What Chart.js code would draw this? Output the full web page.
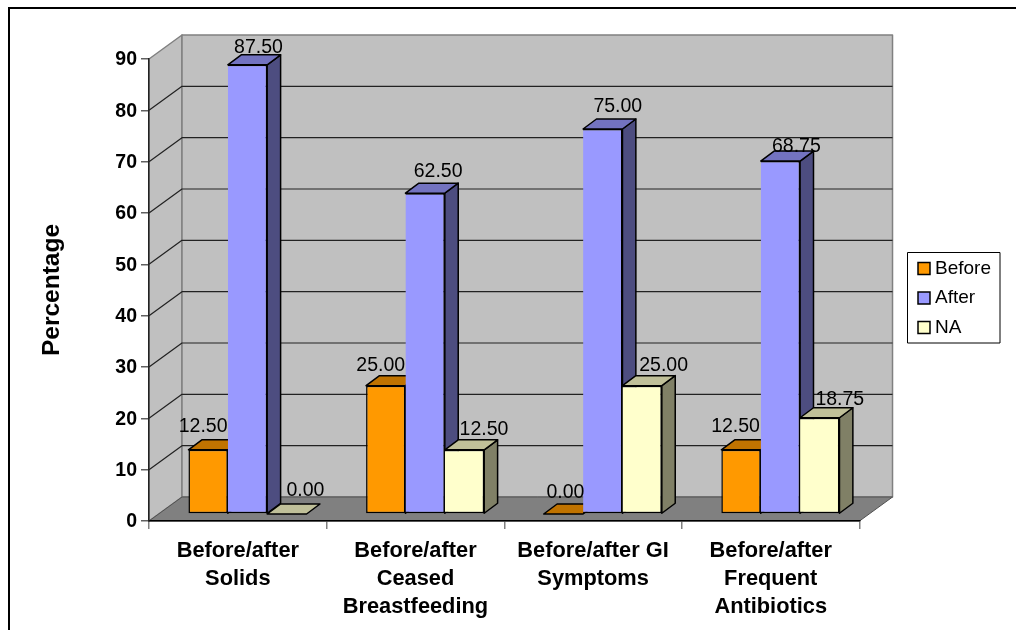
<!DOCTYPE html>
<html>
<head>
<meta charset="utf-8">
<title>Before/after percentages</title>
<script src="https://cdn.jsdelivr.net/npm/chart.js@4"></script>
<style>
    html, body { margin: 0; padding: 0; background: #fff; }
    canvas { display: block; }
</style>
</head>
<body>
<canvas id="chart" width="1016" height="630"></canvas>
<script>
const categories = [
    ['Before/after', 'Solids'],
    ['Before/after', 'Ceased', 'Breastfeeding'],
    ['Before/after GI', 'Symptoms'],
    ['Before/after', 'Frequent', 'Antibiotics']
];
const seriesNames = ['Before', 'After', 'NA'];
const beforeValues = [12.5, 25, 0, 12.5];
const afterValues = [87.5, 62.5, 75, 68.75];
const naValues = [0, 12.5, 25, 18.75];
const yTicks = [0, 10, 20, 30, 40, 50, 60, 70, 80, 90];

const frontColors = ['#FF9900', '#9999FF', '#FFFFCC'];
const topColors = ['#C07300', '#7373C0', '#C0C099'];
const sideColors = ['#804D00', '#4D4D80', '#808066'];

const FONT = '"Liberation Sans", Arial, sans-serif';
const WALL = { dx: 33, dy: 24 };     // depth of the floor and side wall
const BAR = { dx: 9.7, dy: 7 };      // bars stand this far behind the front edge
const CAP = { dx: 13.4, dy: 10 };    // depth of one bar

function poly(ctx, pts, fill, stroke, width) {
    ctx.beginPath();
    pts.forEach(([x, y], i) => i ? ctx.lineTo(x, y) : ctx.moveTo(x, y));
    ctx.closePath();
    if (fill) { ctx.fillStyle = fill; ctx.fill(); }
    if (stroke) { ctx.strokeStyle = stroke; ctx.lineWidth = width; ctx.stroke(); }
}

// frame, walls, floor, grid lines and the legend box
const roomPlugin = {
    id: 'room',
    beforeDraw(chart) {
        const { ctx, chartArea: a, scales: { y } } = chart;
        const { dx, dy } = WALL;
        ctx.save();
        ctx.lineJoin = 'round';

        ctx.fillStyle = '#000';
        ctx.fillRect(8, 7, 1008, 2);
        ctx.fillRect(8, 7, 2, 623);

        poly(ctx, [[a.left, a.top], [a.left + dx, a.top - dy], [a.left + dx, a.bottom - dy], [a.left, a.bottom]], '#C0C0C0', '#808080', 1.5);
        poly(ctx, [[a.left + dx, a.top - dy], [a.right + dx, a.top - dy], [a.right + dx, a.bottom - dy], [a.left + dx, a.bottom - dy]], '#C0C0C0', '#808080', 1.5);
        poly(ctx, [[a.left, a.bottom], [a.left + dx, a.bottom - dy], [a.right + dx, a.bottom - dy], [a.right, a.bottom]], '#808080', '#505050', 1);

        yTicks.slice(1, -1).forEach(v => {
            const py = y.getPixelForValue(v);
            ctx.beginPath();
            ctx.moveTo(a.left, py);
            ctx.lineTo(a.left + dx, py - dy);
            ctx.lineTo(a.right + dx, py - dy);
            ctx.strokeStyle = '#222';
            ctx.lineWidth = 1.2;
            ctx.stroke();
        });

        ctx.fillStyle = '#fff';
        ctx.fillRect(907, 252, 93, 91);
        ctx.strokeStyle = '#000';
        ctx.lineWidth = 1;
        ctx.strokeRect(907.5, 252.5, 92.5, 90.5);
        ctx.restore();
    },
    // the legend sits away from the plot, as in the picture
    afterLayout(chart) {
        const lg = chart.legend;
        lg.left = 912;
        lg.right = 1001;
        lg.top = 248.5;
        lg.bottom = 380;
    }
};

// side and top faces of the bars, behind the fronts the library draws
const barDepthPlugin = {
    id: 'barDepth',
    beforeDatasetsDraw(chart) {
        const { ctx } = chart;
        ctx.save();
        ctx.translate(BAR.dx, BAR.dy * -1);
        ctx.lineJoin = 'round';
        chart.data.datasets.forEach((ds, i) => {
            chart.getDatasetMeta(i).data.forEach(bar => {
                const l = bar.x - bar.width / 2, r = bar.x + bar.width / 2;
                const t = bar.y, b = bar.base;
                if (b - t > 0.5) {
                    poly(ctx, [[r, t], [r + CAP.dx, t - CAP.dy], [r + CAP.dx, b - CAP.dy], [r, b]], sideColors[i], '#000', 1.5);
                }
                poly(ctx, [[l, t], [l + CAP.dx, t - CAP.dy], [r + CAP.dx, t - CAP.dy], [r, t]], topColors[i], '#000', 1.5);
            });
        });
        ctx.restore();
    },
    beforeDatasetDraw(chart) {
        chart.ctx.save();
        chart.ctx.translate(BAR.dx, BAR.dy * -1);
    },
    afterDatasetDraw(chart) {
        chart.ctx.restore();
    }
};

const valueLabelPlugin = {
    id: 'valueLabels',
    afterDatasetsDraw(chart, args, opts) {
        const { ctx } = chart;
        ctx.save();
        ctx.font = '19.5px ' + FONT;
        ctx.fillStyle = '#000';
        ctx.textAlign = 'center';
        ctx.textBaseline = 'alphabetic';
        chart.data.datasets.forEach((ds, i) => {
            chart.getDatasetMeta(i).data.forEach((bar, j) => {
                const [nx, ny] = opts.nudge[i][j];
                ctx.fillText(ds.data[j].toFixed(2), bar.x + BAR.dx + nx, bar.y - BAR.dy - ny);
            });
        });
        ctx.restore();
    }
};

const seriesValues = [beforeValues, afterValues, naValues];

new Chart(document.getElementById('chart'), {
    type: 'bar',
    data: {
        labels: categories,
        datasets: seriesNames.map((name, i) => ({
            label: name,
            data: seriesValues[i],
            backgroundColor: frontColors[i],
            borderColor: '#000',
            borderWidth: 1.5,
            borderSkipped: i === 0 ? false : 'left',
            clip: false,
            categoryPercentage: 0.665,
            barPercentage: 1
        }))
    },
    options: {
        responsive: false,
        animation: false,
        layout: { padding: { left: 30, top: 59, right: 67.5, bottom: 0 } },
        scales: {
            x: {
                grid: { drawOnChartArea: false, color: '#808080', lineWidth: 1.5, tickLength: 8 },
                border: { color: '#000', width: 1.5 },
                ticks: {
                    autoSkip: false, maxRotation: 0, minRotation: 0, padding: 8, color: '#000',
                    font: { family: FONT, size: 21.8, weight: 'bold', lineHeight: 1.285 }
                },
                afterFit(scale) { scale.height = 109; }
            },
            y: {
                min: 0, max: 90,
                grid: { drawOnChartArea: false, color: '#606060', lineWidth: 1.5, tickLength: 8 },
                border: { color: '#222', width: 1.5 },
                ticks: {
                    stepSize: 10, padding: 4, color: '#000', labelOffset: 1,
                    font: { family: FONT, size: 19.5, weight: 'bold' }
                },
                title: {
                    display: true, text: 'Percentage', color: '#000', padding: { top: 8, bottom: 0 },
                    font: { family: FONT, size: 24.5, weight: 'bold' }
                },
                afterFit(scale) { scale.width = 119; }
            }
        },
        plugins: {
            tooltip: { enabled: false },
            legend: {
                position: 'right',
                align: 'start',
                labels: {
                    usePointStyle: true, pointStyle: 'rect',
                    boxWidth: 3, boxHeight: 12, padding: 10.5, color: '#000',
                    font: { family: FONT, size: 19 }
                }
            },
            valueLabels: {
                // label offset from the bar's top centre, [right, up]
                nudge: [
                    [[-5, 18], [-5, 15], [2, 16], [-5.5, 18]],
                    [[11, 12], [13, 16], [15, 17], [16, 9]],
                    [[18.5, 18], [19.5, 15], [21.5, 15], [20, 13]]
                ]
            }
        }
    },
    plugins: [roomPlugin, barDepthPlugin, valueLabelPlugin]
});
</script>
</body>
</html>
